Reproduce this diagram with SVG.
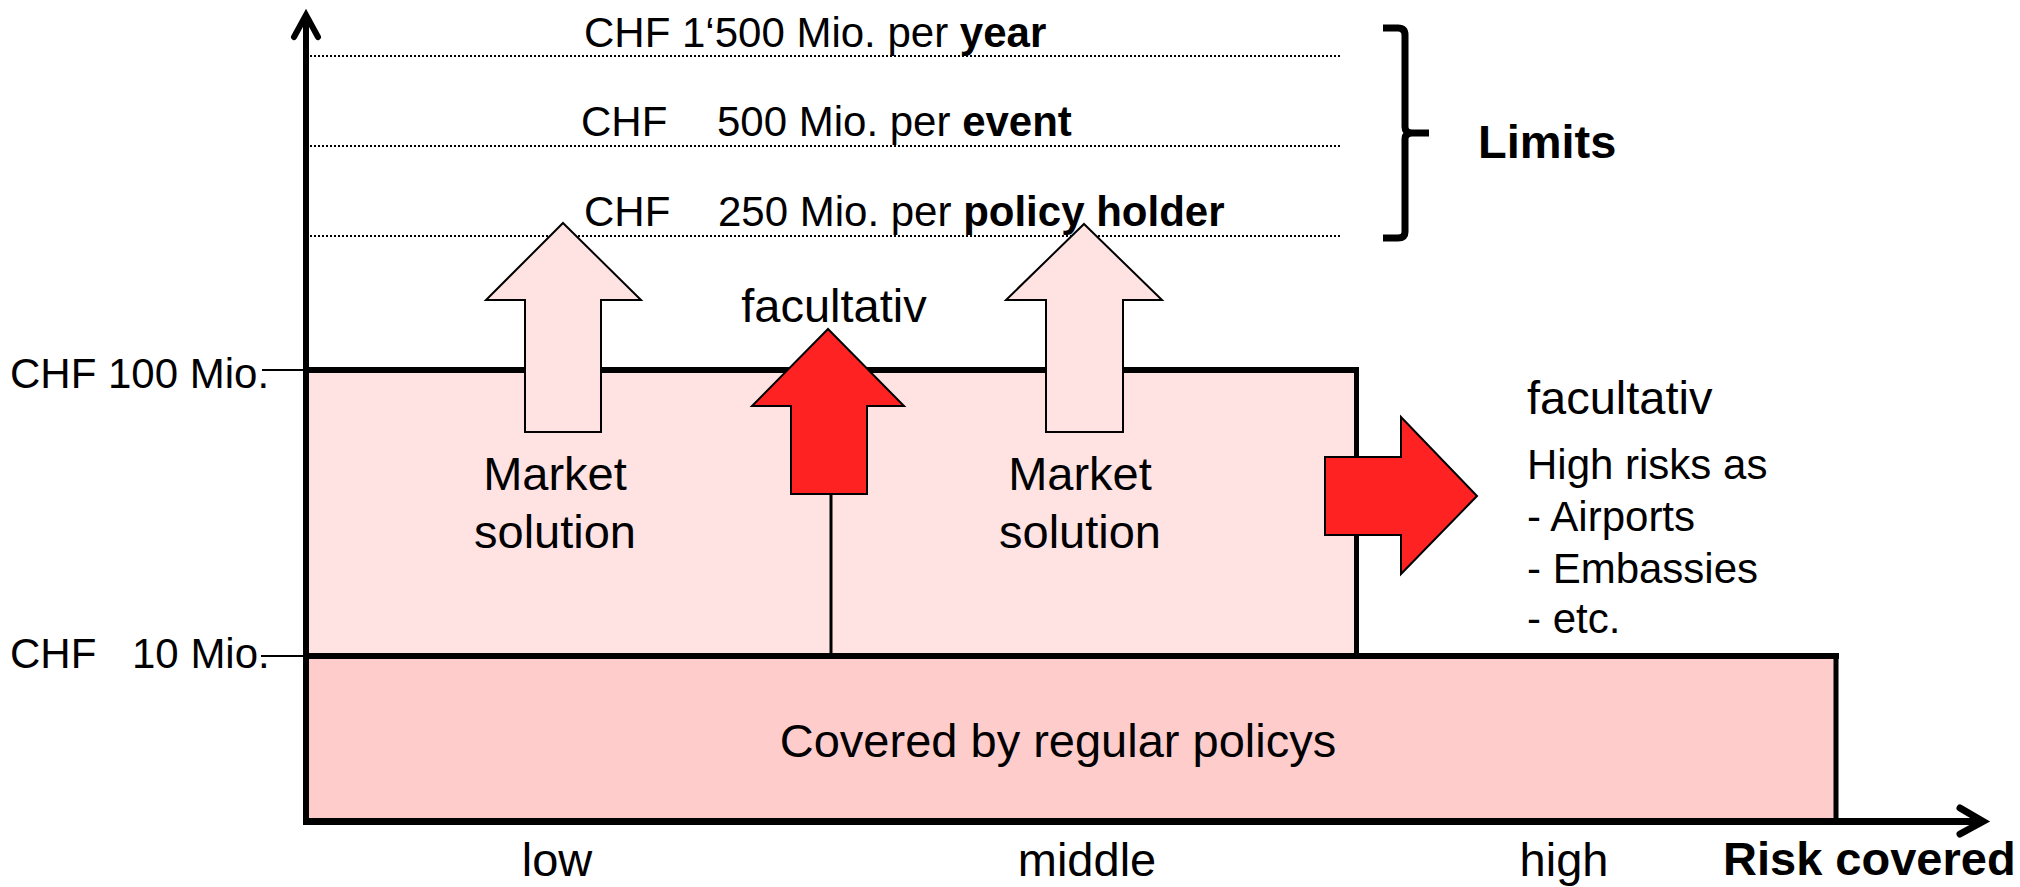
<svg xmlns="http://www.w3.org/2000/svg" width="2020" height="887" viewBox="0 0 2020 887">
<style>
text{font-family:"Liberation Sans",Arial,sans-serif;fill:#000}
.s42{font-size:42px}
.s47{font-size:47px}
.b{font-weight:bold}
.mid{text-anchor:middle}
.dot{stroke:#000;stroke-width:2;stroke-dasharray:2 2;fill:none}
.thick{stroke:#000;fill:none}
.mkt{fill:#FFE3E3;stroke:#000;stroke-width:2;stroke-linejoin:miter}
.red{fill:#FF2222;stroke:#000;stroke-width:2;stroke-linejoin:miter}
</style>
<rect width="2020" height="887" fill="#fff"/>
<g id="upper-band">
<rect x="306" y="370" width="1051" height="286" fill="#FFE3E3"/>
</g>
<g id="lower-band">
<rect x="306" y="656" width="1530" height="166" fill="#FFCCCC"/>
<text class="s47 mid" x="1058" y="757">Covered by regular policys</text>
</g>
<g id="connectors">
<line class="dot" x1="310" y1="56" x2="1340" y2="56"/>
<line class="dot" x1="310" y1="146" x2="1340" y2="146"/>
<line class="dot" x1="310" y1="236" x2="1340" y2="236"/>
<line class="thick" x1="306" y1="370" x2="1359" y2="370" stroke-width="6"/>
<line class="thick" x1="1356.5" y1="368" x2="1356.5" y2="656" stroke-width="5"/>
<line class="thick" x1="831" y1="494" x2="831" y2="656" stroke-width="3"/>
<line class="thick" x1="306" y1="656" x2="1839" y2="656" stroke-width="6"/>
<line class="thick" x1="1836" y1="653" x2="1836" y2="822" stroke-width="5"/>
<line class="thick" x1="262" y1="370" x2="306" y2="370" stroke-width="2"/>
<line class="thick" x1="261" y1="656" x2="306" y2="656" stroke-width="2"/>
<line class="thick" x1="306" y1="825" x2="306" y2="16" stroke-width="6"/>
<polyline class="thick" points="294,37 306,15 318,37" stroke-width="6" stroke-linecap="round" stroke-linejoin="miter"/>
<line class="thick" x1="303" y1="821.5" x2="1980" y2="821.5" stroke-width="7"/>
<polyline class="thick" points="1960,808 1983,821.5 1960,834" stroke-width="7" stroke-linecap="round"/>
<path d="M1383,28 L1398,28 Q1405,28 1405,35 L1405,127 Q1405,133 1412,133 L1429,133 M1412,133 Q1405,133 1405,139 L1405,232 Q1405,238 1398,238 L1383,238" fill="none" stroke="#000" stroke-width="7" stroke-linejoin="round"/>
</g>
<g id="limit-year">
<text class="s42" x="584" y="47">CHF 1‘500 Mio. per <tspan class="b">year</tspan></text>
</g>
<g id="limit-event">
<text class="s42" x="581" y="136">CHF<tspan x="717">500 Mio. per </tspan><tspan class="b">event</tspan></text>
</g>
<g id="limit-policy">
<text class="s42" x="584" y="226">CHF<tspan x="718">250 Mio. per </tspan><tspan class="b">policy holder</tspan></text>
</g>
<g id="limits-label">
<text class="s47 b" x="1478" y="158">Limits</text>
</g>
<g id="axis-labels">
<text class="s42" x="10" y="388">CHF 100 Mio.</text>
<text class="s42" x="10" y="668">CHF<tspan x="132">10 Mio.</tspan></text>
<text class="s47 mid" x="557" y="876">low</text>
<text class="s47 mid" x="1087" y="876">middle</text>
<text class="s47 mid" x="1564" y="876">high</text>
<text class="s47 b" x="1723" y="875">Risk covered</text>
</g>
<g id="market-left">
<polygon class="mkt" points="563,223 641,300 601,300 601,432 525,432 525,300 486,300"/>
<text class="s47 mid" x="555" y="490">Market</text>
<text class="s47 mid" x="555" y="548">solution</text>
</g>
<g id="market-right">
<polygon class="mkt" points="1084,224 1162,300 1123,300 1123,432 1046,432 1046,300 1006,300"/>
<text class="s47 mid" x="1080" y="490">Market</text>
<text class="s47 mid" x="1080" y="548">solution</text>
</g>
<g id="facultativ-up">
<polygon class="red" points="828,329 904,406 867,406 867,494 791,494 791,406 752,406"/>
<text class="s47 mid" x="834" y="322">facultativ</text>
</g>
<g id="facultativ-right">
<polygon class="red" points="1477,496 1401,574 1401,535 1325,535 1325,457 1401,457 1401,417"/>
<text class="s47" x="1527" y="414">facultativ</text>
<text class="s42" x="1527" y="479">High risks as</text>
<text class="s42" x="1527" y="531">- Airports</text>
<text class="s42" x="1527" y="583">- Embassies</text>
<text class="s42" x="1527" y="633">- etc.</text>
</g>
</svg>
